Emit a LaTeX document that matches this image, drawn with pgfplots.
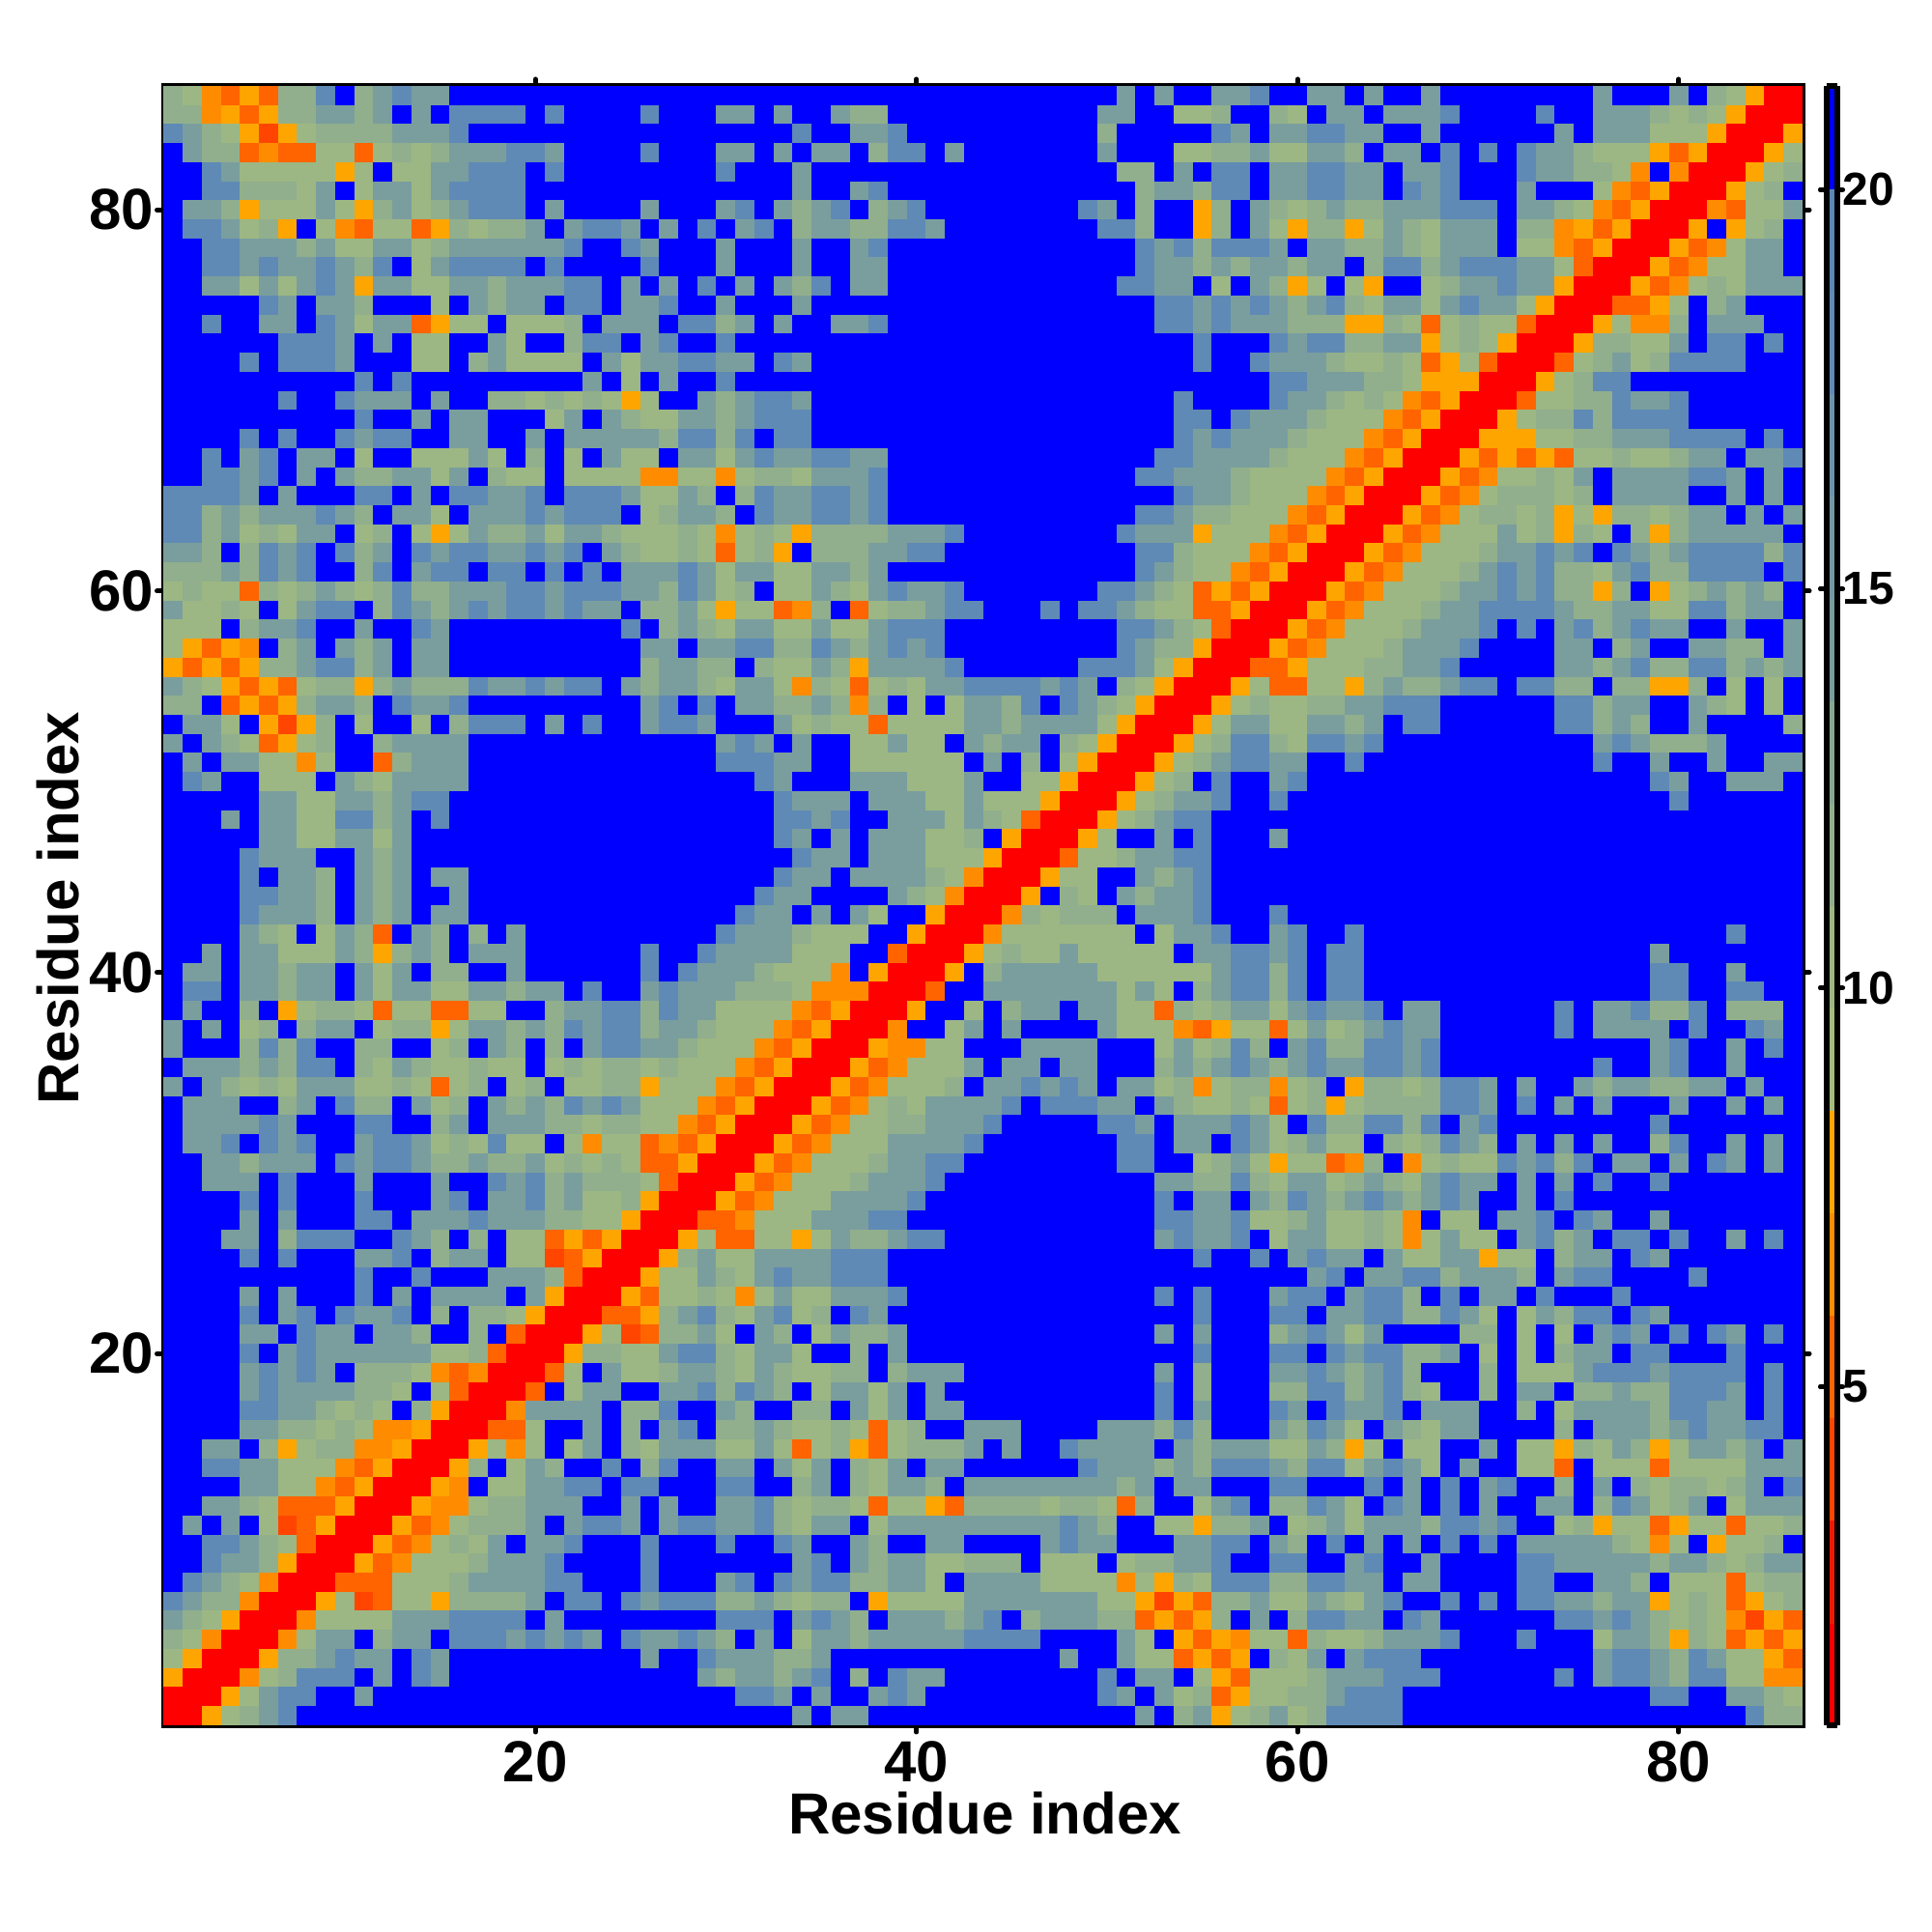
\documentclass[border=0pt]{standalone}
\usepackage{fontspec}
\setmainfont{Liberation Sans}
\usepackage{pgfplots}
\usepackage{pgfplotstable}
\pgfplotsset{compat=1.18}
\makeatletter
\def\pgfplots@error#1{\PackageWarning{pgfplots}{table row length}}
\makeatother

% rows run from residue 86 at the top down to residue 1
\pgfplotstableread[header=false]{
12 10 6 5 8 5 12 12 18 21 12 14 18 14 14 21 21 21 21 21 21 21 21 21 21 21 21 21 21  21 21 21 21 21 21 21 21 21 21 21 21 21 21 21 21 21 21 21 21 21 14 21 14 21 21 14 14 18  21 21 14 14 21 14 21 21 14 21 21 21 21 21 21 21 21 14 21 21 21 14 21 12 10 8 1 1
12 12 6 8 5 8 12 12 14 14 12 14 21 14 21 18 18 18 18 21 18 21 21 21 21 18 21 21 21  14 14 21 14 21 21 14 12 12 21 21 21 21 21 21 21 21 21 21 21 14 14 21 21 10 10 12 21 21  12 10 21 14 14 21 14 14 14 18 21 21 21 21 18 21 21 14 14 14 12 10 12 10 8 1 1 1
18 14 12 10 8 4 8 10 12 12 12 12 14 14 14 18 21 21 21 21 21 21 21 21 21 21 21 21 21  21 21 21 21 18 21 21 14 14 18 21 21 21 21 21 21 21 21 21 21 12 21 21 21 21 21 18 14 21  14 14 18 18 14 14 21 21 14 21 21 21 21 21 21 14 21 14 14 14 10 10 10 8 1 1 1 8
21 14 12 12 5 6 5 5 10 10 5 10 12 10 12 14 14 14 18 18 14 21 21 21 21 18 21 21 21  14 14 21 14 21 14 14 21 12 18 18 21 14 21 21 21 21 21 21 21 14 21 21 21 10 10 12 12 14  10 10 14 14 12 21 14 14 21 18 21 18 21 18 14 14 12 10 10 10 8 5 8 1 1 1 8 10
21 21 18 14 10 10 10 10 10 8 10 21 10 10 14 14 18 18 18 21 18 21 21 21 21 21 21 21 21  18 21 21 21 14 21 21 21 21 21 21 21 21 21 21 21 21 21 21 21 21 12 12 21 14 21 18 18 21  14 14 18 18 14 14 21 14 14 18 21 21 21 18 14 14 12 12 10 6 21 6 1 1 1 8 10 12
21 21 18 18 12 12 12 10 14 21 10 14 14 10 14 18 18 18 18 21 21 21 21 21 21 21 21 21 21  21 21 21 21 14 21 21 14 18 21 21 21 21 21 21 21 21 21 21 21 21 21 12 14 14 12 18 18 21  14 14 18 18 14 14 21 18 14 18 21 21 21 14 21 21 21 10 6 5 8 1 1 1 8 10 12 21
21 14 14 12 8 10 10 10 14 10 8 12 14 10 12 14 18 18 18 21 14 21 21 21 21 14 21 21 21  14 18 21 14 12 14 18 21 12 14 18 21 21 21 21 21 21 21 21 18 14 21 12 21 21 8 12 21 14  12 10 12 14 12 12 14 14 14 18 18 18 21 14 14 12 10 6 5 8 1 1 1 6 5 10 10 14
21 18 18 14 10 12 8 21 10 6 5 10 10 5 8 12 10 12 12 14 21 14 18 18 14 21 14 21 18  21 14 18 21 12 14 14 12 12 18 18 14 21 21 21 21 21 21 21 21 18 18 12 21 21 8 12 21 14  10 8 12 12 8 10 14 12 10 14 14 14 21 12 12 6 8 5 8 1 1 1 8 21 8 10 12 21
21 21 18 18 14 14 14 12 14 10 10 14 14 10 12 14 14 14 14 14 14 18 21 21 18 14 21 21 21  14 21 21 21 14 21 21 14 18 21 21 21 21 21 21 21 21 21 21 21 21 21 18 14 18 12 18 18 18  14 21 14 14 12 12 14 12 10 14 14 14 21 10 10 6 5 8 1 1 1 8 5 6 10 14 14 21
21 21 18 18 14 18 14 14 18 14 12 18 21 10 14 18 18 18 18 21 18 21 21 21 21 18 21 21 21  14 21 21 21 14 21 21 14 14 21 21 21 21 21 21 21 21 21 21 21 21 21 18 14 14 12 14 12 14  14 12 14 14 21 12 18 18 12 14 18 18 18 14 14 10 5 1 1 1 8 5 6 10 10 14 14 21
21 21 14 14 10 14 10 14 18 14 8 14 14 10 10 14 14 12 14 14 14 18 18 21 14 21 14 21 18  21 14 21 14 12 18 21 14 14 21 21 21 21 21 21 21 21 21 21 21 21 18 18 14 14 21 10 21 14  12 8 10 21 10 8 21 21 10 12 14 14 18 14 14 8 1 1 1 8 5 6 10 12 10 14 14 14
21 21 21 21 21 18 14 21 14 14 12 21 21 21 10 21 14 12 14 14 21 18 18 21 14 14 18 21 21  14 21 21 21 14 21 21 21 21 21 21 21 21 21 21 21 21 21 21 21 21 21 21 18 18 14 18 14 18  14 12 14 18 12 10 14 14 10 14 18 14 14 10 8 1 1 1 5 5 8 10 21 12 14 21 21 21
21 21 18 21 21 14 14 21 18 14 10 14 14 5 8 10 10 21 10 10 10 12 21 14 14 14 21 18 18  12 14 21 14 21 21 14 14 18 21 21 21 21 21 21 21 21 21 21 21 21 21 21 18 18 14 18 14 14  14 12 12 12 8 8 12 10 5 10 12 10 10 5 1 1 1 8 10 6 6 12 21 14 14 14 21 21
21 21 21 21 21 21 18 18 18 14 21 14 21 10 10 21 21 14 10 21 21 12 18 18 21 14 18 21 21  18 21 21 21 21 21 21 21 21 21 21 21 21 21 21 21 21 21 21 21 21 21 21 21 21 18 21 21 21  18 14 18 18 12 12 14 14 8 10 12 10 8 1 1 1 8 12 12 10 10 14 21 18 18 21 18 21
21 21 21 21 18 21 18 18 18 14 21 21 21 10 10 21 12 14 10 10 10 10 21 14 10 14 14 18 18  14 14 21 18 14 21 21 21 21 21 21 21 21 21 21 21 21 21 21 21 21 21 21 21 21 18 21 21 18  14 14 14 12 10 10 12 10 5 8 10 5 1 1 1 5 10 12 14 10 12 18 18 18 18 21 21 21
21 21 21 21 21 21 21 21 21 21 18 21 18 21 21 21 21 21 21 21 21 21 14 21 10 21 14 21 21  18 21 21 21 21 21 21 21 21 21 21 21 21 21 21 21 21 21 21 21 21 21 21 21 21 21 21 21 21  18 18 14 14 14 12 12 10 8 8 8 1 1 1 8 10 12 18 18 21 21 21 21 21 21 21 21 21
21 21 21 21 21 21 18 21 21 18 14 14 14 21 14 21 21 12 12 10 12 10 12 10 8 10 21 21 14  12 14 18 18 14 21 21 21 21 21 21 21 21 21 21 21 21 21 21 21 21 21 21 21 18 21 21 21 21  18 14 14 12 10 12 10 6 5 8 1 1 1 5 10 10 12 12 18 14 14 18 21 21 21 21 21 21
21 21 21 21 21 21 21 21 21 21 18 21 21 14 21 14 14 21 21 21 10 14 21 14 12 10 10 14 14  12 14 18 18 18 21 21 21 21 21 21 21 21 21 21 21 21 21 21 21 21 21 21 21 18 18 21 18 14  14 14 12 10 10 10 6 5 8 1 1 1 8 10 12 12 18 12 18 18 18 18 21 21 21 21 21 21
21 21 21 21 18 21 18 21 21 18 14 18 18 21 21 14 14 21 21 14 21 14 14 14 14 14 12 18 18  12 18 21 18 18 21 21 21 21 21 21 21 21 21 21 21 21 21 21 21 21 21 21 21 18 14 18 14 14  14 12 10 10 10 6 5 8 1 1 1 8 8 8 10 10 12 12 14 14 14 18 18 18 18 21 18 21
21 21 18 21 14 18 21 14 14 21 10 21 21 10 10 10 14 10 21 12 21 10 21 14 10 10 21 14 14  10 14 18 14 14 18 18 14 14 21 21 21 21 21 21 21 21 21 21 21 21 21 21 18 18 14 14 14 14  12 10 10 10 6 5 8 1 1 1 8 5 8 5 8 5 10 10 12 10 10 12 14 14 21 14 14 18
21 21 18 18 14 18 21 14 21 14 12 12 14 14 10 14 21 12 10 10 21 10 10 10 10 6 6 10 10  6 10 12 12 10 14 14 14 18 21 21 21 21 21 21 21 21 21 21 21 21 21 18 18 14 14 14 12 10  10 10 10 6 5 8 1 1 1 8 5 6 10 10 12 10 14 21 14 14 14 14 18 18 14 21 14 21
18 18 18 18 14 21 14 21 21 21 18 18 21 14 21 18 18 14 14 18 21 18 18 18 14 10 10 14 12  21 12 18 14 14 18 18 14 18 21 21 21 21 21 21 21 21 21 21 21 21 21 21 21 18 14 14 12 10  10 10 6 5 8 1 1 1 8 5 6 10 12 12 12 10 12 21 14 14 14 14 21 21 14 21 14 21
18 18 12 14 12 14 14 14 18 14 12 21 14 14 10 21 14 14 14 18 14 18 18 18 21 10 12 14 14  12 21 18 14 14 18 18 14 18 21 21 21 21 21 21 21 21 21 21 21 21 21 18 18 14 12 12 10 10  10 6 5 8 1 1 1 8 5 6 10 12 12 10 12 8 10 8 12 12 10 12 14 14 21 14 21 14
18 18 12 14 10 12 10 14 14 21 10 12 21 10 8 10 14 12 12 14 10 14 14 12 10 10 10 12 10  6 10 12 10 8 12 12 12 12 14 14 14 18  21 21 21 21 21 21 21 21  18 14 14 14 8 10 10 10  6 5 8 1 1 1 8 5 6 10 10 10 14 10 12 8 12 10 21 12 8 12 14 14 14 14 14 21
14 14 12 21 12 18 14 18 21 18 12 14 21 18 14 18 18 14 14 18 14 18 21 14 12 10 10 12 10  5 10 12 8 21 12 12 12 14 14 18 18  21 21 21 21 21 21 21 21 21 21  18 18 12 10 10 10 6  5 8 1 1 1 8 5 6 10 10 10 12 14 14 18 14 18 21 18 14 12 14 18 18 18 18 12 18
12 12 12 14 12 18 14 18 21 21  12 18 21 14 18 18 21 18 18 21  18 21 18 21 14 14 14 18 14  10 14 14 10 10 14 14 12 14  21 21 21 21 21 21 21 21 21 21 21 21 21  18 14 12 10 10 6 5  8 1 1 1 8 5 6 10 10 10  12 14 18 14 18 12 12 10 14 18  12 12 18 18 18 18 21 18
10 12 10 10 5 12 10 12 14 12  10 12 18 12 12 14 14 14 18 18  14 18 18 18 14 14 12 18 14  10 12 21 10 10 14 12 10 14 18 14 14 18  21 21 21 21 21 21 21  18 18 14 12 10 5 8 5 8  1 1 1 8 5 6 10 10 10 12  14 14 18 14 18 12 12 8 12 21  8 10 12 14 12 14 12 21
14 10 10 12 10 21 10 14 18 18  21 12 18 14 12 14 18 14 18 18  14 18 14 14 21 12 12 14 10  8 10 10 5 6 12 21 5 10 12 12 14 18 18  21 21 21  18  21  18 18  14 12 10 10  5 5 8 1  1 1 8 5 6 10 10 10 12 14  14 18 18 18 18 14 12 12 14 14  10 10 18 18 12 14 14 21
10 10 10 21 12 14 14 18 21 21 14 21 21 18 14  21 21 21 21 21 21 21 21 21  18 21 12 14 12  10 14 14 10 10 14 10 10 14 18 18 18  21 21 21 21 21 21 21 21 21  18 18 14 12 10 5 1 1  1 8 5 6 10 10 10 12 14 14  14 18 21 18 21 14 18 12 14 18  14 14 21 21 14 21 21 14
10 8 5 8 6 21 12 14 21 14 12 14 21 14 14  21 21 21 21 21 21 21 21 21 21  14 14 21 14  14 18 18 12 12 18 14 12 14 18 14 18  21 21 21 21 21 21 21 21 21  18 14 12 12 8 1 1 1  8 5 6 10 10 10 12 14 14 14  18 21 21 21 21 14 14 21 12 14  21 21 14 14 12 12 21 14
8 5 8 5 8 12 12 14 18 18 12 14 21 14 14  21 21 21 21 21 21 21 21 21 21  12 14 14 12  12 21 12 10 10 14 12 8 14 14 14 14 18  21 21 21 21 21 21  18 18 18 14 10 8 1 1 1 5  5 8 10 10 10 12 12 14 14 18  21 21 21 21 21 14 14 12 14 18  12 12 18 18 12 14 12 14
14 12 10 8 5 8 5 10 12 12 8 12 14 12 12 12 18 14 14 18 14 18 18 21 14 12 14 14 12  10 14 14 10 6 12 10 5 10 12 10 14 14 18 18 18 18 14 18 14 21 12 10 8 1 1 1 8 10  5 5 10 10 8 12 14 12 12 14 18 18 21 18 18 12 12 21 12 12 8 8 12 21 10 21 10 21
12 12 21 5 8 5 8 12 14 14 12 21 18 14 14 18  21 21 21 21 21 21 21 21 21  14 18 21 18  21 14 14 12 12 14 12 6 12 21 10 21 10 14 14 12 18 21 18 14 12 10 8 1 1 1 8 10 12  10 10 12 12 14 14 18 18 18  21 21 21 21 21 21  18 18 12 14 14 21 21 14 12 10 21 10 21
21 14 14 10 21 8 4 8 12 21 10 21 21 10 21 12 18 18 18 21 14 21 18 21 21 14 18 18 14  21 21 21 14 10 12 10 10 5 10 10 10 10 14 14 12 14 14 14 14 10 8 1 1 1 8 10 14 14  10 10 14 14 12 14 21 18 18  21 21 21 21 21 21  18 18 12 14 12 21 21 14 21 21 21 21 12
14 21 14 12 10 5 8 10 12 21 21 12 14 14 14 14  21 21 21 21 21 21 21 21 21 21 21 21 21  14 18 14 21 14 21 21 10 10 14 10 10 21 14 12 14 14 21 12 10 8 1 1 1 8 10 12 18 18  12 10 18 18 14 18  21 21 21 21 21 21 21 21 21 21 21  14 18 14 12 12 12 14  21 21 21 21
21 14 21 14 14 10 10 6 10 21 21 5 12 14 14 14  21 21 21 21 21 21 21 21 21 21 21 21 21  18 18 18 14 14 21 21 10 10 10 10 10 10 21 14 21 12 21 10 8 1 1 1 8 10 12 14 18 18  14 14 21 21 18  21 21 21 21 21 21 21 21 21 21 21 21  18 21 21 14 21 21 14 21 21 14 14
21 18 14 21 21 10 10 10 21 14 12 10 14 14 14 14  21 21 21 21 21 21 21 21 21 21 21 21 21  21 21 18 14 21 21 21 14 14 14 10 10 10 14 21 21 10 10 8 1 1 1 8 10 12 21 18 21 21  14 18  21 21 21 21 21 21 21 21 21 21 21 21 21 21 21 21 21 21  18 14 21 21 14 14 14 21
21 21 21 21 21 14 14 10 10 14 14 12 14 18 18  21 21 21 21 21 21 21 21 21 21 21 21 21 21  21 21 21 18 14 14 14 21 14 14 14 10 10 14 10 10 10 8 1 1 1 8 10 12 14 14 18 21 21  18  21 21 21 21 21 21 21 21 21 21 21 21 21 21 21 21 21 21 21 21  18  21 21 21 21 21 21
21 21 21 14 21 14 14 10 10 18 18 12 14 21 18  21 21 21 21 21 21 21 21 21 21 21 21 21 21  21 21 21 18 18 14 18 21 21 14 14 14 10 14 12 10 5 1 1 1 8 10 12 14 18 18 21 21 21  21 21 21 21 21 21 21 21 21 21 21 21 21 21 21 21 21 21 21 21 21 21 21 21 21 21 21 21
21 21 21 21 21 14 14 10 10 14 14 10 14  21 21 21 21 21 21 21 21 21 21 21 21 21 21 21 21  21 21 21 18 14 21 14 21 14 14 14 10 10 12 21 8 1 1 1 8 10 21 21 14 21 18 21 21 21  14  21 21 21 21 21 21 21 21 21 21 21 21 21 21 21 21 21 21 21 21 21 21 21 21 21 21 21
21 21 21 21 18 14 14 14 21 21 14 12 14  21 21 21 21 21 21 21 21 21 21 21 21 21 21 21 21  21 21 21 21 18 14 14 21 14 14 14 10 10 10 8 1 1 1 5 10 10 12 14 14 18 18 21 21 21  21 21 21 21 21 21 21 21 21 21 21 21 21 21 21 21 21 21 21 21 21 21 21 21 21 21 21 21
21 21 21 21 18 21 14 14 12 21 14 12 14 21 14 14  21 21 21 21 21 21 21 21 21 21 21 21 21  21 21 21 18 14 14 21 14 14 14 14 12 10 6 1 1 1 8 10 10 21 21 14 12 14 18 21 21 21  21 21 21 21 21 21 21 21 21 21 21 21 21 21 21 21 21 21 21 21 21 21 21 21 21 21 21 21
21 21 21 21 18 18 14 14 12 21 14 12 14 21 21 14  21 21 21 21 21 21 21 21 21 21 21 21 21  21 21 18 14 14 21 21 21 21 14 12 10 6 1 1 1 8 21 12 10 21 14 12 14 14 18 21 21 21  21 21 21 21 21 21 21 21 21 21 21 21 21 21 21 21 21 21 21 21 21 21 21 21 21 21 21 21
21 21 21 21 18 14 14 14 12 21 14 12 14 21 14 14  21 21 21 21 21 21 21 21 21 21 21 21 21  21 18 14 14 21 14 21 14 10 21 21 8 1 1 1 6 12 10 12 12 12 21 14 14 14 18 21 21 21  18  21 21 21 21 21 21 21 21 21 21 21 21 21 21 21 21 21 21 21 21 21 21 21 21 21 21 21
21 21 21 21 14 12 10 21 10 14 12 5 21 14 12 21 12 21 14  21 21 21 21 21 21 21 21 21 21  18 14 14 14 12 10 10 10 21 21 8 1 1 1 6 10 10 10 10 10 10 10 21 10 14 14 18 21 21  14 18 21 21 18  21 21 21 21 21 21 21 21 21 21 21 21 21 21 21 21 21 21 21  18  21 21 21
21 21 14 21 14 14 10 10 10 14 12 8 12 14 12 21 14 14 14  21 21 21 21 21 21  18 21 21 18  14 14 14 14 10 10 10 21 21 5 1 1 1 8 10 12 10 10 14 10 10 10 10 10 21 14 14 18 18  14 18 21 18 18  21 21 21 21 21 21 21 21 21 21 21 21 21 21 21  14  21 21 21 21 21 21 21
21 14 14 21 14 14 12 14 14 21 14 10 14 21 12 12 21 21 14  21 21 21 21 21 21  18 21 18 14  14 14 12 10 10 10 6 21 8 1 1 1 8 21 12 14 14 14 14 14 10 10 10 10 10 10 14 18 18  12 18 21 18 18  21 21 21 21 21 21 21 21 21 21 21 21 21 21 21  18 18  21 21 14 21 21 21
21 18 18 21 14 14 12 14 14 21 14 10 14 14 10 10 14 14 12 14 14 21 18 21 21 14 18 14 14  14 12 12 12 10 6 6 6 1 1 1 5 21 21 14 14 14 14 14 14 14 10 14 10 21 12 14 18 18  12 18 21 18 18  21 21 21 21 21 21 21 21 21 21 21 21 21 21 21  18 18 21 21 18 18 21 21
21 14 21 21 12 21 8 10 12 12 10 5 10 10 5 5 10 10 21 21 12 14 14 18 18 12 18 14 14  10 10 10 10 6 5 8 1 1 1 8 21 21 10 21 12 14 14 21 14 14 10 10 5 12 10 12 14 14  10 14 18 14 14 18 21 14 14  21 21 21 21 21 21  18 21 14 14 18 12 12 18 21 12 12 12 21
14 21 14 21 10 12 21 12 14 14 21 10 12 12 8 10 14 14 12 14 12 18 14 18 18 12 14 14 12  10 10 10 6 5 8 1 1 1 6 21 21 10 14 21 14 21 21 21 21 14 10 10 10 6 5 8 10 10  5 10 14 10 12 14 18 14 14  21 21 21 21 21 21  18 21 14 14 14 14 21 18 21 21 18 14 21
14 21 21 21 12 18 12 18 21 21 12 12 21 21 10 12 21 14 12 21 12 21 14 18 18 14 14 12 10  10 10 6 5 8 1 1 1 8 6 6 10 10 21 21 21 14 14 14 14 21 21 21 10 14 10 12 18 12  21 14 18 12 12 18 18 14 18  21 21 21 21 21 21 21 21 21 21 21  14 18 21 21 14 21 18 21
21 14 14 14 12 14 12 18 18 21 12 10 14 12 10 10 12 10 10 21 10 12 10 12 12 10 12 10 10  10 6 5 8 1 1 1 8 5 6 10 10 10 14 21 14 14 21 14 14 21 21 21 12 14 12 14 18 14  12 14 18 14 14 18 18 14 18  21 21 21 21 21 21 21 21  18 21 21 14 18 21 21 14 21 21 21
14 21 14 12 10 12 10 14 14 14 10 10 12 10 5 10 12 21 10 12 21 10 10 12 12 8 10 10 10  6 5 8 1 1 1 8 5 6 10 10 10 12 21 14 14 18 14 18 14 21 14 14 10 12 6 10 12 12  6 10 12 21 8 12 12 10 12 18 18 14 21 14 21 21 14 12 14 14 12 12 14 14 21 14 21 21
21 14 14 14 21 21 12 14 21 18 12 12 21 14 10 12 21 14 12 14 12 18 14 18 14 10 10 10 6  5 8 1 1 1 8 5 6 10 12 10 14 14 14 14 18 21 18 18 18 14 14 21 14 12 10 10 12 10  5 10 12 8 10 12 12 12 12 18 18 14 21 18 21 14 21 14 21 21 21 14 21 21 14 21 14 21
21 14 14 14 14 18 14 21 21 21 18 18 21 21 12 14 21 14 14 14 12 12 10 12 12 10 10 6 5  8 1 1 1 8 5 6 10 10 12 12 14 14 14 18  21 21 21 21 21  18 18 14 21 14 14 14 18 14  10 21 18 12 12 18 18 12 18 21 14 18  21 21 21 21 21 21 21 21  18  21 21 21 21 21 21 21
21 14 14 18 21 18 14 18 21 21 14 18 18 14 10 12 10 18 10 10 21 10 6 10 10 5 6 5 8  1 1 1 8 5 6 10 10 10 14 14 14 14 18  21 21 21 21 21 21 21  18 18 21 14 14 21 18 14  10 12 14 10 10 21 12 10 12 18 14 12 21 14 21 14 21 14 21 21 12 18 21 21 14 21 14 21
21 21 14 14 12 14 14 14 21 18 14 18 18 14 12 12 14 12 12 14 10 12 10 12 10 5 5 8 1  1 1 8 5 6 10 10 10 12 14 14 18 18  21 21 21 21 21 21 21 21  18 18 21 21 10 12 14 10  8 10 10 5 6 12 21 6 10 12 10 10 18 14 18 12 18 21 14 14 21 14 21 18 14 21 14 21
21 21 14 14 14 21 18 21 21 21 14 21 21 21 14 21 21 18 14 18 12 14 12 12 12 10 5 1 1  1 8 5 6 10 10 10 12 14 14 14 18  21 21 21 21 21 21 21 21 21 21 21  14 14 12 12 18 12  10 14 14 10 12 14 12 10 14 18 14 14 21 14 21 14 21 18 21 21 18  21 21 21 21 21 21 21
21 21 21 21 18 21 18 21 21 21 18 21 21 21 14 18 21 14 14 18 12 14 10 10 12 8 1 1 1  8 5 6 10 10 10 14 14 14 14 18  21 21 21 21 21 21 21 21 21 21 21 21  18 21 14 14 21 14  12 18 14 12 14 18 14 12 14 18 14 21 21 14 21 18  21 21 21 21 21 21 21 21 21 21 21 21
21 21 21 21 14 21 14 21 21 21 18 18 21 14 14 14 18 14 14 14 12 12 10 10 8 1 1 1 5  5 6 10 10 10 14 14 14 18 18  21 21 21 21 21 21 21 21 21 21 21 21 21  18 18 14 14 18 10  10 12 14 10 10 12 10 6 21 10 10 21 14 14 18 21 18 14 21 21 14  21 21 21 21 21 21 21
21 21 21 14 14 21 12 18 18 18 21 21 18 14 12 21 12 21 10 10 5 8 5 8 1 1 1 8 10  5 5 10 10 8 10 14 12 12 14 18 18  21 21 21 21 21 21 21 21 21 21 21  14 18 14 14 18 21  10 14 14 10 10 12 10 6 10 14 10 10 21 14 18 12 14 21 18 18 21 18 21 21 14 21 18 21
21 21 21 21 18 21 18 21 21 21 14 14 18 21 12 14 14 21 10 10 4 5 8 1 1 1 8 12 14  10 10 14 14 14 14 18 18 18  21 21 21 21 21 21 21 21 21 21 21 21 21 21 21 21  18 21 21 18  21 14 18 14 14 21 14 10 10 14 14 8 10 10 21 12 14 14 21 18 14  21 21 21 21 21 21 21
21 21 21 21 21 21 21 21 21 21 18 21 21 18 21 21 21 14 14 14 12 5 1 1 1 8 10 10 14  12 10 14 18 14 14 18 18 18  21 21 21 21 21 21 21 21 21 21 21 21 21 21 21 21 21 21 21 21 21 21  14 18 21 14 14 18 18 12 14 14 14 12 21 14 18 18 21 21 21 21 18  21 21 21 21 21 21 21
21 21 21 21 14 21 14 21 21 21 18 21 14 21 14 14 14 14 21 14 8 1 1 1 8 5 10 10 12  10 6 10 14 10 10 14 14 14 18  21 21 21 21 21 21 21 21 21 21 21 21 21  18 21 18 21 21 21  14 18 18 21 14 18 18 12 21 18 21 14 14 21 18 21 21 21 18 21 21  21 21 21 21 21 21 21
21 21 21 21 18 21 14 18 21 18 14 14 18 21 12 21 12 12 10 8 1 1 1 5 5 8 12 14 18  12 10 14 18 10 12 21 18 14  21 21 21 21 21 21 21 21 21 21 21 21 21 21 21 21  18 21 21 21  18 18 21 14 14 18 18 12 12 18 14 10 21 10 14 12 18 18 21 18 14  21 21 21 21 21 21 21
21 21 21 21 14 14 21 18 14 14 21 14 14 12 21 21 12 21 5 1 1 1 8 10 4 5 12 12 14  10 21 14 12 21 10 14 12 12 14  21 21 21 21 21 21 21 21 21 21 21 21 21  14 21 14 21 21 21  12 14 18 14 10 14 21 21 21 21 12 12 21 10 21 10 21 14 18 14 21 18 21 18 14 21 18 21
21 21 21 21 18 21 14 18 14 14 14 14 14 14 10 10 12 5 1 1 1 8 12 12 10 10 14 18 18  12 10 14 14 10 21 21 12 21 14  21 21 21 21 21 21 21 21 21 21 21 21 21 21 21  18 21 21 21  18 18 21 18 14 18 18 12 12 14 21 10 21 10 21 12 14 14 21 18 18 21 21 21 18 21 21 21
21 21 21 21 14 18 14 18 14 21 12 12 12 10 6 5 6 1 1 1 5 10 21 14 10 10 12 14 14  12 10 14 12 10 10 12 12 21 12 14 14 14  21 21 21 21 21 21 21 21 21 21  14 21 12 21 21 21  14 14 18 14 12 14 18 12 21 21 21 12 21 10 10 10 14 18 18 18 14 18 18 18 18 21 18 21
21 21 21 21 14 18 14 14 14 14 12 12 10 21 10 5 1 1 1 5 21 10 14 14 21 21 14 14 18  12 18 14 12 21 10 14 14 10 14 21 14  21 21 21 21 21 21 21 21 21 21 21  18 21 12 21 21 21  12 12 18 18 12 14 18 12 10 21 21 12 21 14 14 21 12 12 14 12 12 18 18 18 14 21 18 21
21 21 21 21 18 18 14 14 12 10 12 10 21 12 8 1 1 1 6 14 14 14 14 21 12 12 18 21 21  14 12 21 21 12 12 21 14 10 14 21 14 14  21 21 21 21 21 21 21 21 21 21  18 21 14 21 21 21  18 14 21 18 14 14 18 21 14 14 14 21 21 12 21 10 14 14 14 14 12 18 18 14 14 21 18 21
21 21 21 21 14 14 12 12 10 12 10 6 6 8 1 1 1 5 5 10 21 21 14 21 12 21 14 18 21  12 12 14 12 10 10 12 10 5 10 12 21 21 14 14 14  21 21 21 21  14 14 14 12 18 12 21 21 21  14 12 18 14 10 21 14 12 10 14 14 21 21 21 21 12 21 14 14 14 12 14 18 14 14 18 18 21
21 21 14 14 21 12 8 10 12 12 6 6 8 1 1 1 8 10 6 10 21 10 14 21 12 10 14 14 14  10 10 14 10 5 10 12 8 5 10 12 12 12 14 21 14 21 21 18 14 14 14 14 21 14 12 14 14 14  10 10 14 12 8 10 21 10 10 21 21 14 21 10 10 8 12 10 14 12 8 10 14 14 12 14 21 14
21 21 18 18 14 14 10 10 10 6 5 8 1 1 1 8 12 21 10 14 12 21 21 18 21 12 18 21 21  14 14 21 14 10 14 21 12 10 14 21 14 14  21 21 21 21 21 21  18 14 14 14 12 14 12 18 18 18  14 12 18 18 10 14 18 14 10 21 14 21 21 10 10 5 21 10 10 10 5 10 10 10 10 14 14 14
21 21 21 21 14 14 10 10 6 5 8 1 1 1 8 6 21 10 10 14 14 18 18 21 18 18 21 21 21  18 18 21 21 12 14 21 12 10 14 14 12 21  14 14 14 14 14 14 14 14  12 14 21 14 14 21 21 21  18 18 21 21 21 18 21 14 21 18 21 14 18 21 21 12 21 14 21 12 10 12 12 10 12 14 21 18
21 21 14 14 12 10 5 5 5 8 1 1 1 8 6 6 10 12 12 14 14 14 21 21 14 21 14 21 21  14 14 18 12 10 12 12 10 5 10 10 8 5 12 12 12 12 10 12 12 10 5 12 21 21 10 14 18 21  12 12 18 14 10 21 18 14 21 18 21 14 21 21 14 14 21 12 18 14 10 12 14 21 10 14 14 14
21 14 21 14 21 10 4 5 8 1 1 1 8 5 6 10 12 12 12 14 21 14 18 18 14 21 14 18 18  14 14 18 12 10 14 14 21 10  14 14 14 14 14 14 14 14 14  18 14 12 21 21 10 10 8 12 12 14  21 10 12 14 10 14 14 14 12 18 18 14 18 21 21 10 12 8 10 10 5 8 10 10 5 10 10 12
21 21 18 18 14 12 10 5 1 1 1 8 5 6 10 12 10 14 21 14 14 18 21 21 21 18 21 21 21  18 21 21 18 14 21 21 14 12 21 21 14 14  21 21 21 21  14 18 14 14  21 21 21  14 14 18 18 21  14 12 21 18 21 14 21 14 21 18 21 18 21 14 14 14 14 14 12 10 6 10 21 8 10 10 12 21
21 21 18 14 14 12 8 1 1 1 8 5 6 10 10 10 12 14 14 14 18  21 21 21 21  18 21 21 21  21 21 21 21 14 18 21 14 12 14 14 10 10 12 12 12 21 10 10 10 21 10 12 12 14 14 18 21 21  18 18 21 21 14 18 21 21 14 21 21 21 21 18 18 14 14 14 14 14 12 14 14 12 10 12 14 14
21 18 14 12 10 6 1 1 1 5 5 5 10 10 10 12 14 14 14 14 18 18 21 21 21 18 21 21 21  14 18 21 18 14 18 18 12 12 14 14 10 21 14 14 14 14 10 10 10 10 6 10 8 12 10 18 18 18  12 12 18 18 14 14 21 14 14 21 21 21 21 18 18 21 21 14 14 12 21 10 10 10 5 10 12 12
18 14 12 12 6 1 1 1 8 10 4 5 10 10 8 12 12 12 12 14 21 18 18 21 18 14 18 18 18  12 12 14 12 10 12 12 21 8 10 10 10 10  14 14 14 14 14 14 14  10 10 8 4 8 5 12 12 14  10 10 14 12 10 14 18 21 21 18 21 18 21 18 18 14 14 12 14 14 8 10 12 10 5 8 10 12
14 12 10 8 1 1 1 6 10 10 10 10 14 14 14 18 18 18 18 21 14  21 21 21 21 21 21 21 21  18 18 18 21 14 18 14 12 21 14 14 14 12 14 18 21 12 14 14 14 12 12 5 8 5 8 12 21 14  21 12 18 18 14 14 21 18 14  21 21 21 21 21 21  18 18 14 18 14 12 10 12 10 6 4 8 5
12 10 6 1 1 1 6 10 14 14 21 12 14 14 21 18 18 18 14 18 14 18 14 21 18 14 14 18 14  12 21 14 21 10 14 14 12 14 14 14 14 14 18 18 18 18  21 21 21 21  14 10 21 8 5 8 6 10  10 5 12 10 10 12 14 14 14 18  21 21 21  18  21 21 21  10 14 14 12 8 12 10 5 8 5 8
10 8 1 1 1 8 12 12 14 18 14 14 21 18 14  21 21 21 21 21 21 21 21 21 21  14 21 21 18  14 14 14 12 12 14  21 21 21 21 21 21 21 21 21 21 21 21  14 21 21 14 10 10 5 8 5 8 21  12 10 14 21 14 18 18 18  21 21 21 21 21 21 21 21 21  14 18 18 14 12 18 14 10 10 8 5
8 1 1 1 6 10 12 18 18 18 21 14 21 18 14  21 21 21 21 21 21 21 21 21 21 21 21 21  14  12 14 14 12 14 18 21 12 21 18 14 14  21 21 21 21 21 21 21 21  18 21 14 14 21 10 8 5 10  10 10 12 14 14 14 18 18 18  21 21 21 21 21 21  18 21 14 18 18 14 12 18 18 10 10 6 6
1 1 1 8 10 14 18 18 21 21 14  21 21 21 21 21 21 21 21 21 21 21 21 21 21 21 21 21 21  21 18 18 14 21 14 21 21 14 18 14  21 21 21 21 21 21 21 21 21  18 14 21 14 10 12 5 8 10  10 12 12 14 18 18 18  21 21 21 21 21 21 21 21 21 21 21 21 21  18 18 21 21 14 14 12 10
1 1 8 10 12 14 18  21 21 21 21 21 21 21 21 21 21 21 21 21 21 21 21 21 21 21 21 21 21  21 21 21 21 14 21 14 14  21 21 21 21 21 21 21 21 21 21 21 21 21 21  14 21 12 14 8 10 12  14 10 12 18 18 18 18  21 21 21 21 21 21 21 21 21 21 21 21 21 21 21 21 21 21  18 12 12
}\dist

\pgfplotsset{
  colormap={dist}{
    rgb255=(255,0,0) rgb255=(240,24,0) rgb255=(255,69,0) rgb255=(255,100,0)
    rgb255=(255,140,0) rgb255=(255,165,0) rgb255=(165,189,124) rgb255=(156,183,131)
    rgb255=(145,175,140) rgb255=(135,167,148) rgb255=(122,158,158) rgb255=(115,153,165)
    rgb255=(108,148,170) rgb255=(95,138,181) rgb255=(92,136,183) rgb255=(0,0,255)
  },
}

\begin{document}
\begin{tikzpicture}
\path[use as bounding box] (0,0) rectangle (1000pt,1000pt);
\begin{axis}[
    at={(84.75pt,107pt)}, anchor=south west,
    scale only axis, width=848.25pt, height=848.5pt,
    xmin=0.5, xmax=86.5, ymin=0.5, ymax=86.5,
    xtick={20,40,60,80}, ytick={20,40,60,80},
    tick align=outside, major tick length=3.5pt,
    tick style={line width=2.5pt, black, line cap=round},
    axis line style={line width=3pt},
    axis on top,
    tick label style={font=\fontsize{30}{36}\selectfont\bfseries, /pgf/number format/assume math mode=true},
    xticklabel style={inner sep=0pt, yshift=-4.5pt},
    yticklabel style={inner sep=0pt, xshift=-1.5pt},
    label style={font=\fontsize{30}{36}\selectfont\bfseries},
    xlabel={Residue index}, ylabel={Residue index},
    xlabel style={at={(axis description cs:0.501,-0.0535)}, anchor=center, inner sep=0pt},
    ylabel style={at={(axis description cs:-0.0645,0.4985)}, anchor=center, inner sep=0pt},
    colormap name=dist, colormap access=piecewise constant,
    point meta min=0.76, point meta max=21.3,
    colorbar sampled,
    colorbar style={
        at={(parent axis.south east)}, anchor=south west, xshift=3.75pt,
        scale only axis, width=5.5pt, height=848.5pt,
        samples=17,
        ytick={5,10,15,20}, ymin=0.76, ymax=21.3,
        tick align=outside, major tick length=3pt,
        tick style={line width=2.5pt, black, line cap=round},
        axis line style={line width=3pt},
        yticklabel pos=right,
        yticklabel style={font=\fontsize{24}{28}\selectfont\bfseries, inner sep=0pt, xshift=0pt,
            /pgf/number format/assume math mode=true},
    },
]
\pgfplotsinvokeforeach{0,...,85}{
  \addplot[scatter, only marks, mark=square*, mark size=4.7pt, scatter src=explicit,
      scatter/use mapped color={draw=mapped color, fill=mapped color},
      mark options={line width=0.6pt, draw=mapped color, fill=mapped color}]
    table[x expr={#1+1}, y expr={86-\coordindex}, meta index=#1] {\dist};
}
\end{axis}
\end{tikzpicture}
\end{document}
